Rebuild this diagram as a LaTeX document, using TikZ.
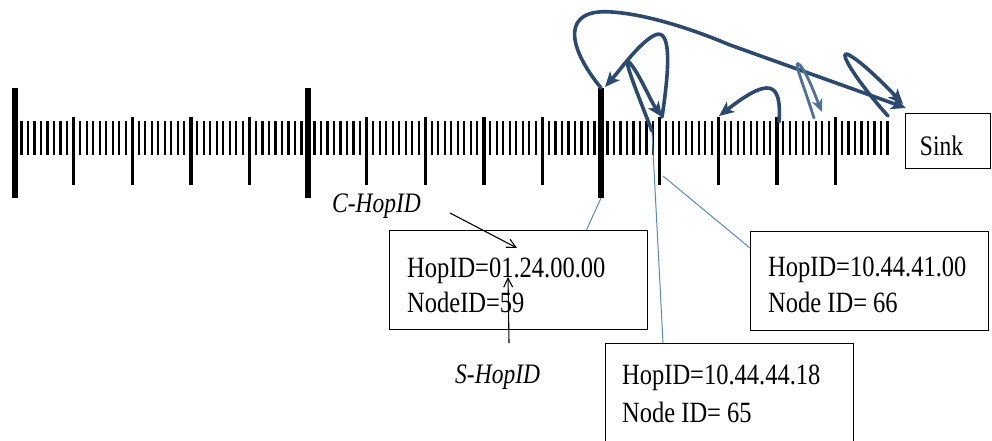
\documentclass[tikz,border=0pt]{standalone}
\usepackage{fontspec}
\setmainfont{Liberation Serif}
\usetikzlibrary{arrows.meta}
\definecolor{hopblue}{HTML}{2C4A6E}
\definecolor{hoplight}{HTML}{4E7099}
\definecolor{leader}{HTML}{5B87BF}
\newcommand{\tallText}[1]{\scalebox{1}[1.2]{#1}}
\begin{document}
\begin{tikzpicture}[x=1pt,y=-1pt,
  bigtick/.style={line width=5.5pt},
  midtick/.style={line width=3.4pt},
  smalltick/.style={line width=2.2pt},
  hop/.style={hopblue, line width=3.6pt, line cap=round,
    -{Stealth[length=15pt,width=13pt,inset=4pt]}},
  hoplite/.style={hoplight, line width=2.8pt, line cap=round,
    -{Stealth[length=13pt,width=11pt,inset=4pt]}},
  infobox/.style={draw, line width=1.4pt, anchor=north west, inner sep=0pt},
  infotext/.style={anchor=base west, inner sep=0pt, font=\fontsize{24.5}{29}\selectfont},
  tagtext/.style={anchor=base west, inner sep=0pt, font=\fontsize{23.5}{28}\selectfont\itshape},
  leaderline/.style={leader, line width=1pt},
  pointer/.style={black, line width=1.1pt, -{Straight Barb[length=9pt,width=9pt]}}
]
\fill[white] (0,0) rectangle (992,441);
\clip (0,0) rectangle (992,441);

% ruler: three major ticks, each major interval split in five, each of those in nine
\foreach \g in {0,1,2}{
  \pgfmathsetmacro{\base}{15+293*\g}
  \draw[bigtick] (\base,88) -- (\base,198);
  \foreach \s in {0,...,4}{
    \pgfmathsetmacro{\seg}{\base+58.6*\s}
    \ifnum\s>0 \draw[midtick] (\seg,117) -- (\seg,185); \fi
    \foreach \k in {1,...,8}{
      \pgfmathsetmacro{\xx}{\seg+6.51*\k}
      \draw[smalltick] (\xx,121) -- (\xx,155);
    }
  }
}

% named points on the ruler
\coordinate (n59top) at (601,88);
\coordinate (n59bot) at (601,198);
\coordinate (n66top) at (662,117);
\coordinate (n66low) at (663,176);
\coordinate (n65) at (652,131);
\coordinate (n67top) at (719,116);
\coordinate (n68top) at (779,122);
\coordinate (n69) at (814,118);
\coordinate (nlast) at (888,116);

% sink
\node[infobox, minimum width=85pt, minimum height=55pt] (sink) at (905,113) {};
\node[anchor=base, inner sep=0pt, font=\fontsize{23.5}{28}\selectfont] (sinklbl) at (941.5,155) {\tallText{Sink}};
\coordinate (sinkin) at (906,108);
\coordinate (sinkin2) at (903,104);

% information boxes
\node[infobox, minimum width=258pt, minimum height=99pt] (box59) at (389,230) {};
\node[infotext] (hop59) at (407,277) {\tallText{HopID=01.24.00.00}};
\node[infotext] (id59) at (407,312) {\tallText{NodeID=59}};

\node[infobox, minimum width=238pt, minimum height=99pt] (box66) at (750,231) {};
\node[infotext] (hop66) at (768,276) {\tallText{HopID=10.44.41.00}};
\node[infotext] (id66) at (768,312) {\tallText{Node ID= 66}};

\node[infobox, minimum width=248pt, minimum height=110pt] (box65) at (605,343) {};
\node[infotext] (hop65) at (622,384) {\tallText{HopID=10.44.44.18}};
\node[infotext] (id65) at (622,422) {\tallText{Node ID= 65}};

% leaders from the boxes to their nodes on the ruler
\draw[leaderline] ([xshift=-62pt]box59.north east) -- (n59bot);
\draw[leaderline] ([xshift=58pt]box65.north west) -- (n65);
\draw[leaderline] ([yshift=-17pt]box66.north west) -- (n66low);

% field labels of the hop identifier
\node[tagtext] (chop) at (332,212) {\tallText{C-HopID}};
\node[tagtext] (shop) at (455,383) {\tallText{S-HopID}};
\coordinate (choptail) at (450,213);
\coordinate (chophead) at (517,248);
\coordinate (shoptail) at (509,343);
\coordinate (shophead) at (508,277);
\draw[pointer] (choptail) -- (chophead);
\draw[pointer] (shoptail) -- (shophead);

% hop-by-hop routing arrows
\draw[hop] (n59top) .. controls (566,45) and (562,8) .. (612,12)
   .. controls (640,14) and (680,24) .. (730,45) -- (sinkin);
\draw[hop] (n66top) .. controls (670,65) and (671,28) .. (655,35)
   .. controls (640,42) and (620,70) .. (605,87);
\draw[hop] (n65) .. controls (634,85) and (622,55) .. (630,63)
   .. controls (640,75) and (650,100) .. (n66top);
\draw[hop] (n68top) .. controls (782,80) and (768,78) .. (n67top);
\draw[hoplite] (n69) .. controls (802,80) and (792,58) .. (800,65)
   .. controls (808,75) and (815,95) .. (822,112);
\draw[hop] (nlast) .. controls (860,85) and (835,48) .. (849,55)
   .. controls (862,62) and (885,85) .. (sinkin2);
\end{tikzpicture}
\end{document}
